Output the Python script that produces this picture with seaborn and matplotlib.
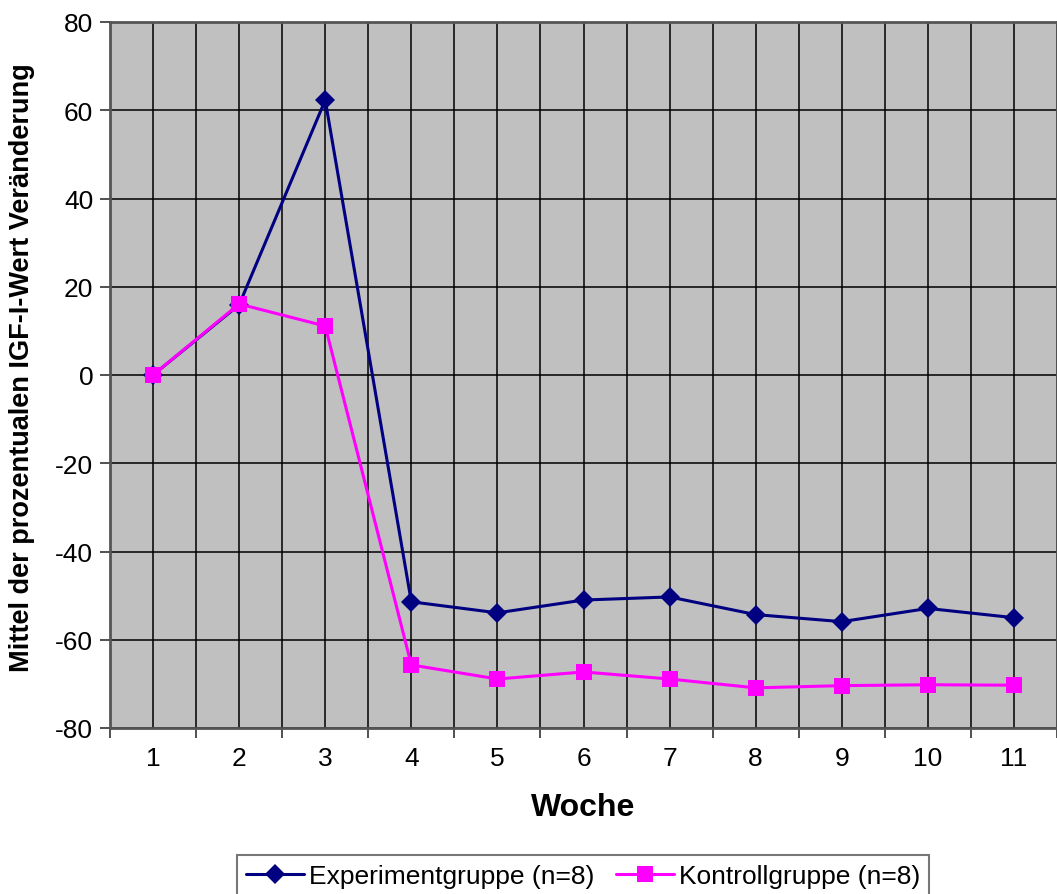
import seaborn as sns
import pandas as pd
import matplotlib.pyplot as plt
import numpy as np

# Daten
wochen = [1, 2, 3, 4, 5, 6, 7, 8, 9, 10, 11]
experiment = [0, 15.9, 62.3, -51.4, -53.9, -51.0, -50.3, -54.3, -55.9, -52.9, -55.0]
kontrolle = [0, 16.1, 11.1, -65.7, -68.9, -67.3, -68.9, -70.9, -70.4, -70.2, -70.3]
gruppen = ["Experimentgruppe (n=8)", "Kontrollgruppe (n=8)"]

df = pd.DataFrame({
    "Woche": wochen * 2,
    "Wert": experiment + kontrolle,
    "Gruppe": [gruppen[0]] * len(wochen) + [gruppen[1]] * len(wochen),
})

sns.set_style("white")
plt.rcParams["font.family"] = ["Liberation Sans", "DejaVu Sans"]
plt.rcParams["axes.unicode_minus"] = False
plt.rcParams["text.color"] = "black"
plt.rcParams["axes.labelcolor"] = "black"
plt.rcParams["xtick.color"] = "black"
plt.rcParams["ytick.color"] = "black"

fig = plt.figure(figsize=(10.57, 8.95), dpi=100)
ax = fig.add_axes([110 / 1057, 1 - 729 / 895, 1 - 110 / 1057, (729 - 23) / 895])
ax.set_facecolor("#C0C0C0")

farben = {gruppen[0]: "#000080", gruppen[1]: "#FF00FF"}
marker = {gruppen[0]: "D", gruppen[1]: "s"}
groesse = {gruppen[0]: 10, gruppen[1]: 11.5}

for g in gruppen:
    sns.lineplot(data=df[df["Gruppe"] == g], x="Woche", y="Wert", ax=ax,
                 color=farben[g], marker=marker[g], markersize=groesse[g],
                 markeredgewidth=0, linewidth=2.2, label=g, zorder=3)

ax.set_xlim(0.5, 11.5)
ax.set_ylim(-80, 80)
ax.set_yticks(np.arange(-80, 81, 20))
ax.set_xticks(wochen)
ax.set_xticks(np.arange(0.5, 11.6, 1), minor=True)
ax.tick_params(axis="x", which="major", length=0, labelsize=19, pad=13)
ax.tick_params(axis="x", which="minor", length=7, width=1.2, color="#333333",
               direction="out", bottom=True)
ax.tick_params(axis="y", which="major", length=7, width=1.2, color="#333333",
               labelsize=19, left=True, direction="out", pad=5)

ax.grid(True, which="both", axis="x", color="black", linewidth=1.1)
ax.grid(True, which="major", axis="y", color="black", linewidth=1.1)
ax.set_axisbelow(True)
for s in ax.spines.values():
    s.set_color("#555555")
    s.set_linewidth(2)

ax.set_xlabel("Woche", fontsize=23, fontweight="bold", labelpad=16)
ax.set_ylabel("Mittel der prozentualen IGF-I-Wert Veränderung", fontsize=19.5,
              fontweight="bold")
ax.yaxis.set_label_coords(-0.079, 0.512)

ax.get_legend().remove()
h, l = ax.get_legend_handles_labels()
fig.legend(h, l, loc="upper center", bbox_to_anchor=(583 / 1057, 1 - 856 / 895),
           ncol=2, fontsize=19, frameon=True, fancybox=False, edgecolor="#555555",
           handlelength=2.2, handletextpad=0.2, columnspacing=0.8,
           borderpad=0.35, borderaxespad=0)
fig.legends[0].get_frame().set_linewidth(1.5)

fig.savefig("out.png", dpi=100)
